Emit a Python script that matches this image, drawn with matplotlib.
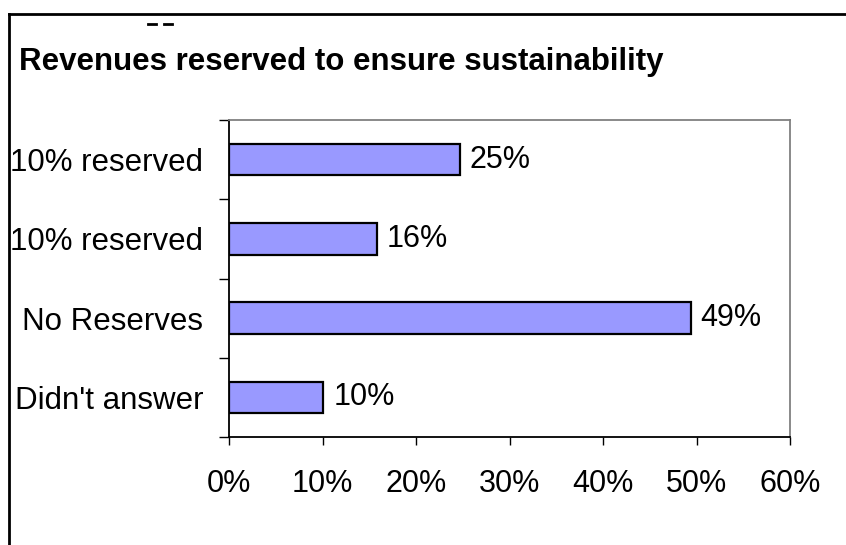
import matplotlib.pyplot as plt
from matplotlib.lines import Line2D

categories = ["10% reserved", "10% reserved", "No Reserves", "Didn't answer"]
values = [24.7, 15.8, 49.4, 10.1]
value_labels = ["25%", "16%", "49%", "10%"]
xticks = [0, 10, 20, 30, 40, 50, 60]
xtick_labels = ["0%", "10%", "20%", "30%", "40%", "50%", "60%"]


def main():
    plt.rcParams['font.family'] = ['Liberation Sans', 'DejaVu Sans']
    W, H = 846, 545
    fig = plt.figure(figsize=(W / 100, H / 100), dpi=100)
    ax = fig.add_axes([229 / W, 1 - 437 / H, (790 - 229) / W, (437 - 120) / H])

    n = len(categories)
    ypos = list(range(n))[::-1]
    ax.barh(ypos, values, height=0.4, color="#9999FF", edgecolor="black", linewidth=1.6, zorder=3)
    for y, v, lab in zip(ypos, values, value_labels):
        ax.annotate(lab, (v, y), xytext=(7, 0), textcoords="offset points",
                    va="center", ha="left", fontsize=22)

    ax.set_xlim(0, 60)
    ax.set_ylim(-0.5, n - 0.5)
    ax.set_xticks(xticks)
    ax.set_xticklabels(xtick_labels, fontsize=22)
    ax.tick_params(axis="x", direction="out", length=6, width=1, pad=17)

    # category labels sit between boundary ticks, Excel style
    ax.set_yticks([i - 0.5 for i in range(n + 1)])
    ax.set_yticklabels([])
    ax.set_yticks(ypos, labels=categories, minor=True)
    ax.tick_params(axis="y", which="major", direction="out", length=7, width=1)
    ax.tick_params(axis="y", which="minor", length=0, pad=18.5, labelsize=22.5)

    ax.spines["left"].set_color("black")
    ax.spines["bottom"].set_color("black")
    ax.spines["top"].set_color("#808080")
    ax.spines["right"].set_color("#808080")
    for s in ax.spines.values():
        s.set_linewidth(1.3)

    fig.text(19 / W, 1 - 62 / H, "Revenues reserved to ensure sustainability",
             fontsize=22.5, fontweight="bold", va="center", ha="left")

    # outer frame of the pasted chart (top and left edges visible)
    fig.add_artist(Line2D([9 / W, 1], [1 - 14 / H, 1 - 14 / H], color="black", lw=2))
    fig.add_artist(Line2D([9 / W, 9 / W], [0, 1 - 14 / H], color="black", lw=2))
    # clipped remnant of text at the top
    for x0 in (148, 164):
        fig.add_artist(Line2D([x0 / W, (x0 + 8) / W], [1 - 24 / H, 1 - 24 / H], color="black", lw=2))

    fig.savefig("out.png", dpi=100)


if __name__ == "__main__":
    main()
